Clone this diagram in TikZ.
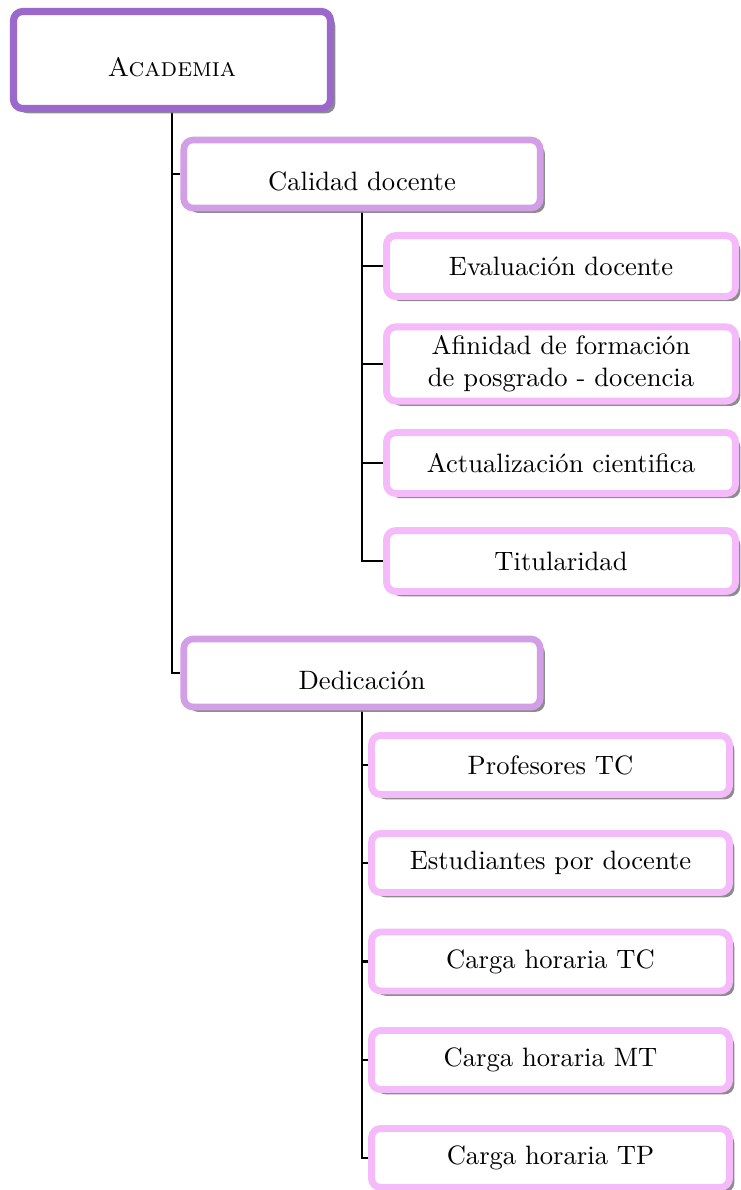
\documentclass[tikz,border=0pt]{standalone}
\usepackage{xcolor}
\usepackage{tikz}
\usetikzlibrary{shadows, positioning, backgrounds}

\definecolor{acadcol}{RGB}{155,105,203}
\definecolor{critcol}{RGB}{210,158,230}
\definecolor{indcol}{RGB}{244,186,250}

\begin{document}
\begin{tikzpicture}[
    x=0.376pt, y=-0.376pt,
    box/.style={draw, fill=white, rounded corners=3.5pt, drop shadow={shadow xshift=1.8pt, shadow yshift=-1.8pt, opacity=0.9}, align=center},
    root_blk/.style={box, draw=acadcol, line width=2.7pt, minimum width=119.2pt, minimum height=36.5pt, text height=12.6pt, text depth=0pt},
    crit_blk/.style={box, draw=critcol, line width=2.5pt, minimum width=134pt, minimum height=25.6pt, text height=12.6pt, text depth=0pt},
    ind_blk/.style={box, draw=indcol, line width=2.6pt, minimum width=131.2pt, minimum height=22.9pt},
    ded_blk/.style={ind_blk, minimum width=134.6pt, minimum height=22.2pt},
    link/.style={line width=0.8pt}
]
    \useasboundingbox (0,0) rectangle (740,1190);

    % Root
    \node[root_blk] (acad) at (172,60) {\textsc{Academia}};

    % Calidad docente
    \node[crit_blk] (calidad) at (362,174) {Calidad docente};
    \node[ind_blk] (eval) at (561,266) {Evaluación docente};
    \node[ind_blk, minimum height=27.5pt] (afin) at (561,364) {Afinidad de formación\\de posgrado - docencia};
    \node[ind_blk] (actual) at (561,463) {Actualización cientifica};
    \node[ind_blk] (titul) at (561,561) {Titularidad};

    % Dedicacion
    \node[crit_blk] (dedic) at (362,673) {Dedicación};
    \node[ded_blk] (prof) at (550.5,765) {Profesores TC};
    \node[ded_blk] (estud) at (550.5,863) {Estudiantes por docente};
    \node[ded_blk] (cargatc) at (550.5,961.5) {Carga horaria TC};
    \node[ded_blk] (cargamt) at (550.5,1060) {Carga horaria MT};
    \node[ded_blk] (cargatp) at (550.5,1158) {Carga horaria TP};

    % Tree lines
    \begin{scope}[on background layer]
        \draw[link] (acad.south) |- (calidad.west);
        \draw[link] (acad.south) |- (dedic.west);

        \draw[link] (calidad.south) |- (eval.west);
        \draw[link] (calidad.south) |- (afin.west);
        \draw[link] (calidad.south) |- (actual.west);
        \draw[link] (calidad.south) |- (titul.west);

        \draw[link] (dedic.south) |- (prof.west);
        \draw[link] (dedic.south) |- (estud.west);
        \draw[link] (dedic.south) |- (cargatc.west);
        \draw[link] (dedic.south) |- (cargamt.west);
        \draw[link] (dedic.south) |- (cargatp.west);
    \end{scope}

\end{tikzpicture}
\end{document}
